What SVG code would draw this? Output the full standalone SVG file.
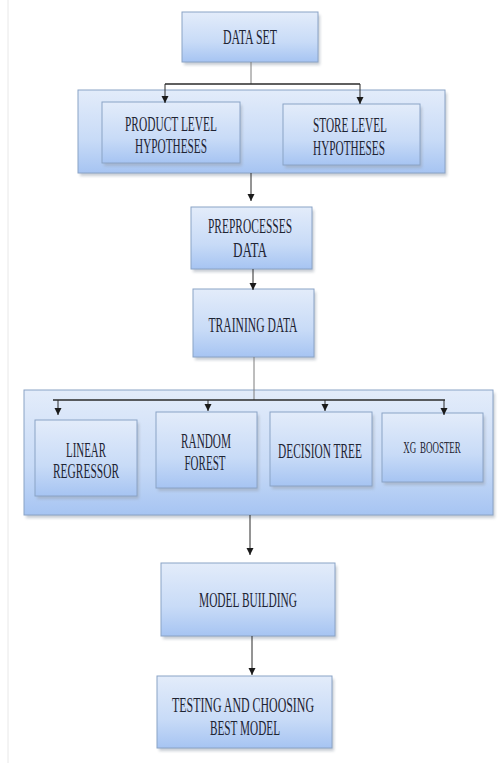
<svg xmlns="http://www.w3.org/2000/svg" width="498" height="763" viewBox="0 0 498 763">
<style>
.box{fill:url(#g);stroke:#8aa3c6;stroke-width:1}
.sh{fill:#9aa3b0;opacity:0.55;filter:url(#blur)}
.t{font-family:"Liberation Serif","Times New Roman",serif;font-size:20px;fill:#1e2433;text-anchor:middle}
.s{font-family:"Liberation Serif","Times New Roman",serif;font-size:16px;fill:#1e2433;text-anchor:middle;word-spacing:3px}
.ln{stroke:#7d7d7d;stroke-width:1;fill:none}
.dk{stroke:#2a2a2a;stroke-width:1.5;fill:none}
.ar{stroke:#2a2a2a;stroke-width:1;fill:none;marker-end:url(#ah)}
</style>
<defs>
<linearGradient id="g" x1="0" y1="0" x2="0" y2="1">
<stop offset="0" stop-color="#e3ecfa"/>
<stop offset="0.6" stop-color="#c8dbf7"/>
<stop offset="1" stop-color="#a6c4f2"/>
</linearGradient>
<filter id="blur" x="-10%" y="-10%" width="120%" height="130%"><feGaussianBlur stdDeviation="1.5"/></filter>
<marker id="ah" markerWidth="7" markerHeight="8" refX="7" refY="3.5" orient="auto" markerUnits="userSpaceOnUse">
<path d="M0,0 L7,3.5 L0,7 z" fill="#1a1a1a"/>
</marker>
</defs>
<rect width="498" height="763" fill="#ffffff"/>
<line x1="8" y1="0" x2="8" y2="763" stroke="#e8e8e8" stroke-width="1"/>

<g id="data-set">
<rect class="sh" x="184" y="15" width="136" height="50"/>
<rect class="box" x="182" y="12" width="136" height="50"/>
<text class="t" x="250" y="44" textLength="54" lengthAdjust="spacingAndGlyphs">DATA SET</text>
</g>

<g id="hypotheses">
<rect class="sh" x="80" y="93" width="367" height="83"/>
<rect class="box" x="78" y="90" width="367" height="83"/>
<g id="product-level">
<rect class="sh" x="104" y="105" width="138" height="61"/>
<rect class="box" x="102" y="102" width="138" height="61"/>
<text class="t" x="171" y="131" textLength="92" lengthAdjust="spacingAndGlyphs">PRODUCT LEVEL</text>
<text class="t" x="171" y="153" textLength="72" lengthAdjust="spacingAndGlyphs">HYPOTHESES</text>
</g>
<g id="store-level">
<rect class="sh" x="285" y="107" width="137" height="61"/>
<rect class="box" x="283" y="104" width="137" height="61"/>
<text class="t" x="350" y="132" textLength="74" lengthAdjust="spacingAndGlyphs">STORE LEVEL</text>
<text class="t" x="349" y="155" textLength="72" lengthAdjust="spacingAndGlyphs">HYPOTHESES</text>
</g>
</g>

<g id="preprocesses">
<rect class="sh" x="193" y="210" width="121" height="62"/>
<rect class="box" x="191" y="207" width="121" height="62"/>
<text class="t" x="250" y="233" textLength="84" lengthAdjust="spacingAndGlyphs">PREPROCESSES</text>
<text class="t" x="250" y="257" textLength="34" lengthAdjust="spacingAndGlyphs">DATA</text>
</g>

<g id="training">
<rect class="sh" x="195" y="292" width="121" height="68"/>
<rect class="box" x="193" y="289" width="121" height="68"/>
<text class="t" x="253" y="332" textLength="89" lengthAdjust="spacingAndGlyphs">TRAINING DATA</text>
</g>

<g id="models">
<rect class="sh" x="26" y="393" width="469" height="125"/>
<rect class="box" x="24" y="390" width="469" height="125"/>
<g id="linear">
<rect class="sh" x="37" y="423" width="102" height="76"/>
<rect class="box" x="35" y="420" width="102" height="76"/>
<text class="t" x="86" y="457" textLength="40" lengthAdjust="spacingAndGlyphs">LINEAR</text>
<text class="t" x="86" y="478" textLength="66" lengthAdjust="spacingAndGlyphs">REGRESSOR</text>
</g>
<g id="random-forest">
<rect class="sh" x="158" y="415" width="101" height="76"/>
<rect class="box" x="156" y="412" width="101" height="76"/>
<text class="t" x="206" y="448" textLength="50" lengthAdjust="spacingAndGlyphs">RANDOM</text>
<text class="t" x="205" y="470" textLength="41" lengthAdjust="spacingAndGlyphs">FOREST</text>
</g>
<g id="decision-tree">
<rect class="sh" x="272" y="415" width="102" height="74"/>
<rect class="box" x="270" y="412" width="102" height="74"/>
<text class="t" x="320" y="458" textLength="84" lengthAdjust="spacingAndGlyphs">DECISION TREE</text>
</g>
<g id="xg-booster">
<rect class="sh" x="384" y="416" width="101" height="69"/>
<rect class="box" x="382" y="413" width="101" height="69"/>
<text class="s" transform="translate(432 453) scale(0.56 1)">XG BOOSTER</text>
</g>
</g>

<g id="model-building">
<rect class="sh" x="163" y="566" width="174" height="73"/>
<rect class="box" x="161" y="563" width="174" height="73"/>
<text class="t" x="248" y="607" textLength="98" lengthAdjust="spacingAndGlyphs">MODEL BUILDING</text>
</g>

<g id="testing">
<rect class="sh" x="159" y="679" width="175" height="72"/>
<rect class="box" x="157" y="676" width="175" height="72"/>
<text class="t" x="243" y="712" textLength="142" lengthAdjust="spacingAndGlyphs">TESTING AND CHOOSING</text>
<text class="t" x="245" y="735" textLength="70" lengthAdjust="spacingAndGlyphs">BEST MODEL</text>
</g>

<g id="connectors">
<line class="ln" x1="251" y1="62" x2="251" y2="84"/>
<line class="dk" x1="165" y1="84" x2="360" y2="84"/>
<line class="ar" x1="165" y1="84" x2="165" y2="103"/>
<line class="ar" x1="360" y1="84" x2="360" y2="104"/>
<line class="ar" x1="251" y1="173" x2="251" y2="201"/>
<line class="ar" x1="253" y1="269" x2="253" y2="290"/>
<line class="ln" x1="254" y1="357" x2="254" y2="400"/>
<line class="dk" x1="53" y1="400" x2="445" y2="400"/>
<line class="ar" x1="58" y1="400" x2="58" y2="415"/>
<line class="ar" x1="208" y1="400" x2="208" y2="411"/>
<line class="ar" x1="325" y1="400" x2="325" y2="411"/>
<line class="ar" x1="444" y1="400" x2="444" y2="415"/>
<line class="ar" x1="250" y1="515" x2="250" y2="555"/>
<line class="ar" x1="252" y1="636" x2="252" y2="675"/>
</g>
</svg>
